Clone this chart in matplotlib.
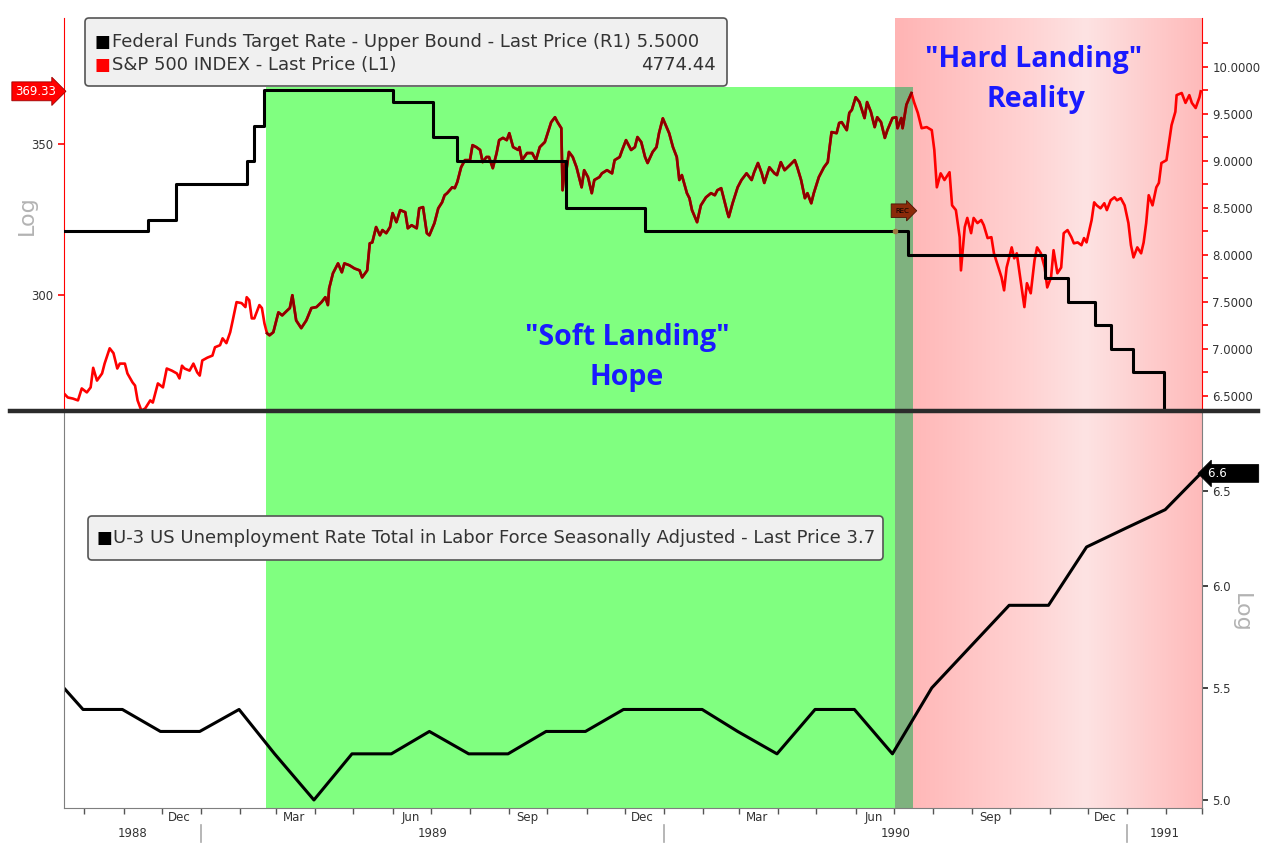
import numpy as np
import pandas as pd
import matplotlib
matplotlib.use('Agg')
import matplotlib.pyplot as plt
import matplotlib.dates as mdates
from matplotlib.colors import LinearSegmentedColormap
from matplotlib.lines import Line2D
from matplotlib.patches import FancyBboxPatch
from matplotlib.transforms import IdentityTransform, blended_transform_factory

# ---- data ----
sp_dates = [
    "1988-09-15", "1988-09-18", "1988-09-22", "1988-09-26", "1988-09-29", "1988-10-03", "1988-10-06", "1988-10-08",
    "1988-10-11", "1988-10-15", "1988-10-17", "1988-10-21", "1988-10-24", "1988-10-27", "1988-10-29", "1988-11-02",
    "1988-11-04", "1988-11-08", "1988-11-10", "1988-11-12", "1988-11-15", "1988-11-18", "1988-11-22", "1988-11-24",
    "1988-11-28", "1988-12-02", "1988-12-05", "1988-12-09", "1988-12-13", "1988-12-15", "1988-12-17", "1988-12-19",
    "1988-12-23", "1988-12-26", "1988-12-29", "1988-12-31", "1989-01-02", "1989-01-06", "1989-01-10", "1989-01-12",
    "1989-01-16", "1989-01-18", "1989-01-21", "1989-01-24", "1989-01-26", "1989-01-29", "1989-02-02", "1989-02-05",
    "1989-02-06", "1989-02-08", "1989-02-10", "1989-02-12", "1989-02-16", "1989-02-18", "1989-02-20", "1989-02-22",
    "1989-02-24", "1989-02-27", "1989-03-03", "1989-03-06", "1989-03-10", "1989-03-12", "1989-03-14", "1989-03-17",
    "1989-03-21", "1989-03-25", "1989-03-29", "1989-04-02", "1989-04-06", "1989-04-09", "1989-04-11", "1989-04-12",
    "1989-04-15", "1989-04-19", "1989-04-22", "1989-04-24", "1989-04-28", "1989-05-02", "1989-05-06", "1989-05-08",
    "1989-05-12", "1989-05-14", "1989-05-16", "1989-05-19", "1989-05-22", "1989-05-24", "1989-05-27", "1989-05-30",
    "1989-06-01", "1989-06-04", "1989-06-07", "1989-06-11", "1989-06-13", "1989-06-16", "1989-06-20", "1989-06-22",
    "1989-06-25", "1989-06-28", "1989-06-30", "1989-07-04", "1989-07-07", "1989-07-10", "1989-07-12", "1989-07-14",
    "1989-07-18", "1989-07-20", "1989-07-22", "1989-07-25", "1989-07-28", "1989-08-01", "1989-08-03", "1989-08-06",
    "1989-08-09", "1989-08-11", "1989-08-14", "1989-08-16", "1989-08-19", "1989-08-22", "1989-08-24", "1989-08-27",
    "1989-08-30", "1989-09-01", "1989-09-04", "1989-09-08", "1989-09-09", "1989-09-11", "1989-09-15", "1989-09-19",
    "1989-09-22", "1989-09-25", "1989-09-29", "1989-10-02", "1989-10-04", "1989-10-07", "1989-10-09", "1989-10-12",
    "1989-10-13", "1989-10-15", "1989-10-16", "1989-10-18", "1989-10-21", "1989-10-24", "1989-10-28", "1989-10-30",
    "1989-11-02", "1989-11-05", "1989-11-07", "1989-11-11", "1989-11-13", "1989-11-17", "1989-11-21", "1989-11-23",
    "1989-11-27", "1989-11-29", "1989-12-02", "1989-12-06", "1989-12-09", "1989-12-11", "1989-12-14", "1989-12-17",
    "1989-12-19", "1989-12-23", "1989-12-26", "1989-12-28", "1989-12-31", "1990-01-03", "1990-01-05", "1990-01-08",
    "1990-01-11", "1990-01-13", "1990-01-15", "1990-01-19", "1990-01-21", "1990-01-23", "1990-01-27", "1990-01-30",
    "1990-02-03", "1990-02-07", "1990-02-10", "1990-02-12", "1990-02-15", "1990-02-18", "1990-02-20", "1990-02-21",
    "1990-02-24", "1990-02-28", "1990-03-03", "1990-03-07", "1990-03-11", "1990-03-13", "1990-03-16", "1990-03-19",
    "1990-03-21", "1990-03-25", "1990-03-29", "1990-03-31", "1990-04-03", "1990-04-06", "1990-04-10", "1990-04-14",
    "1990-04-16", "1990-04-19", "1990-04-22", "1990-04-24", "1990-04-27", "1990-04-29", "1990-05-03", "1990-05-07",
    "1990-05-10", "1990-05-13", "1990-05-17", "1990-05-19", "1990-05-21", "1990-05-25", "1990-05-27", "1990-05-29",
    "1990-06-01", "1990-06-04", "1990-06-08", "1990-06-10", "1990-06-13", "1990-06-16", "1990-06-18", "1990-06-21",
    "1990-06-24", "1990-06-26", "1990-06-30", "1990-07-03", "1990-07-04", "1990-07-07", "1990-07-08", "1990-07-11",
    "1990-07-15", "1990-07-17", "1990-07-20", "1990-07-23", "1990-07-27", "1990-07-31", "1990-08-02", "1990-08-04",
    "1990-08-07", "1990-08-10", "1990-08-14", "1990-08-16", "1990-08-19", "1990-08-22", "1990-08-23", "1990-08-26",
    "1990-08-28", "1990-08-31", "1990-09-02", "1990-09-05", "1990-09-08", "1990-09-10", "1990-09-13", "1990-09-16",
    "1990-09-18", "1990-09-21", "1990-09-24", "1990-09-26", "1990-09-28", "1990-10-02", "1990-10-04", "1990-10-06",
    "1990-10-09", "1990-10-12", "1990-10-14", "1990-10-17", "1990-10-20", "1990-10-22", "1990-10-25", "1990-10-28",
    "1990-10-30", "1990-11-02", "1990-11-04", "1990-11-07", "1990-11-10", "1990-11-12", "1990-11-15", "1990-11-18",
    "1990-11-20", "1990-11-23", "1990-11-26", "1990-11-28", "1990-11-30", "1990-12-04", "1990-12-06", "1990-12-08",
    "1990-12-11", "1990-12-14", "1990-12-16", "1990-12-19", "1990-12-22", "1990-12-24", "1990-12-27", "1990-12-30",
    "1991-01-02", "1991-01-04", "1991-01-06", "1991-01-09", "1991-01-12", "1991-01-14", "1991-01-16", "1991-01-18",
    "1991-01-21", "1991-01-24", "1991-01-26", "1991-01-28", "1991-02-01", "1991-02-05", "1991-02-08", "1991-02-09",
    "1991-02-13", "1991-02-16", "1991-02-19", "1991-02-21", "1991-02-24", "1991-02-27", "1991-02-28",
]
sp_values = [
    271.4, 270.3, 270.0, 269.5, 272.8, 271.7, 273.1, 278.6,
    275.0, 277.0, 279.8, 284.2, 282.8, 278.4, 279.8, 279.8,
    277.0, 274.5, 273.6, 269.5, 266.7, 267.3, 269.5, 268.9,
    274.2, 273.1, 278.4, 277.8, 277.0, 275.6, 279.2, 278.4,
    277.8, 279.8, 277.3, 276.4, 280.7, 281.5, 282.1, 284.5,
    285.1, 287.1, 285.7, 288.9, 292.4, 297.9, 297.6, 296.4,
    299.4, 298.5, 293.0, 293.0, 297.0, 296.1, 291.5, 288.6,
    288.0, 288.9, 294.8, 293.9, 295.4, 296.1, 300.0, 292.4,
    290.1, 292.4, 296.1, 296.4, 297.9, 299.4, 297.0, 302.1,
    306.8, 309.9, 307.1, 309.9, 309.3, 308.3, 307.7, 305.5,
    307.7, 316.3, 316.6, 321.6, 318.9, 320.6, 319.6, 321.6,
    326.2, 323.2, 327.2, 326.5, 321.2, 322.2, 321.2, 327.8,
    328.2, 319.6, 318.9, 322.9, 327.8, 329.8, 332.2, 332.9,
    334.9, 334.6, 336.7, 341.8, 344.3, 344.3, 349.6, 348.9,
    347.9, 343.6, 345.4, 345.4, 341.5, 346.8, 351.4, 352.2,
    351.4, 353.9, 348.9, 347.9, 348.9, 344.3, 346.8, 346.8,
    344.3, 348.9, 350.7, 355.0, 357.9, 359.7, 357.9, 355.7,
    333.9, 343.3, 340.8, 347.2, 345.4, 341.8, 334.9, 340.8,
    338.4, 332.9, 337.4, 338.4, 339.7, 340.8, 339.7, 344.3,
    345.4, 347.9, 351.4, 347.9, 348.9, 352.5, 350.7, 345.4,
    343.3, 347.2, 348.9, 353.9, 359.3, 356.1, 353.9, 348.9,
    345.4, 337.4, 339.1, 332.9, 331.2, 327.2, 323.2, 328.8,
    331.5, 332.9, 332.2, 333.9, 334.6, 329.5, 326.2, 324.9,
    329.5, 334.9, 337.4, 339.7, 337.4, 340.1, 343.3, 339.7,
    336.4, 341.8, 339.7, 339.1, 343.6, 340.8, 342.5, 344.3,
    341.8, 337.4, 331.2, 332.9, 329.5, 332.9, 338.4, 341.8,
    343.6, 354.3, 353.9, 357.6, 357.9, 355.0, 361.3, 362.4,
    367.1, 365.3, 359.4, 365.3, 361.7, 356.1, 359.7, 357.9,
    352.2, 355.0, 359.4, 359.7, 355.7, 359.4, 355.7, 364.3,
    368.7, 365.3, 361.3, 355.7, 356.1, 355.0, 347.9, 334.9,
    339.7, 337.4, 340.1, 328.8, 327.2, 318.3, 307.7, 321.6,
    324.6, 319.6, 324.6, 322.9, 323.9, 322.2, 318.0, 318.3,
    313.1, 309.3, 305.5, 301.5, 308.6, 315.0, 311.5, 313.1,
    304.6, 296.4, 303.7, 300.6, 310.9, 315.0, 313.1, 308.6,
    302.4, 305.5, 314.1, 306.8, 308.6, 319.6, 320.6, 318.3,
    316.3, 316.6, 315.7, 318.0, 316.6, 323.9, 329.8, 328.8,
    327.8, 329.5, 327.2, 330.5, 331.5, 330.5, 331.2, 328.8,
    322.9, 315.7, 311.8, 315.0, 313.1, 316.6, 322.9, 332.2,
    328.8, 334.9, 336.4, 343.3, 344.3, 356.8, 361.7, 367.9,
    368.7, 365.0, 367.9, 365.0, 363.1, 367.1, 369.33,
]

fed_dates = ["1988-09-15", "1988-11-20", "1988-12-12", "1989-02-06", "1989-02-12", "1989-02-20",
             "1989-06-01", "1989-07-03", "1989-07-22", "1989-10-16", "1989-12-17", "1990-07-12",
             "1990-10-28", "1990-11-15", "1990-12-07", "1990-12-19", "1991-01-06", "1991-01-30",
             "1991-02-28"]
fed_values = [8.25, 8.375, 8.75, 9.0, 9.375, 9.75, 9.625, 9.25, 9.0, 8.5, 8.25, 8.0,
              7.75, 7.5, 7.25, 7.0, 6.75, 6.25, 6.25]

unemp_dates = ["1988-08-31", "1988-09-30", "1988-10-31", "1988-11-30", "1988-12-31", "1989-01-31",
               "1989-02-28", "1989-03-31", "1989-04-30", "1989-05-31", "1989-06-30", "1989-07-31",
               "1989-08-31", "1989-09-30", "1989-10-31", "1989-11-30", "1989-12-31", "1990-01-31",
               "1990-02-28", "1990-03-31", "1990-04-30", "1990-05-31", "1990-06-30", "1990-07-31",
               "1990-08-31", "1990-09-30", "1990-10-31", "1990-11-30", "1990-12-31", "1991-01-31",
               "1991-02-28"]
unemp_values = [5.6, 5.4, 5.4, 5.3, 5.3, 5.4, 5.2, 5.0, 5.2, 5.2, 5.3, 5.2, 5.2, 5.3, 5.3, 5.4, 5.4,
                5.4, 5.3, 5.2, 5.4, 5.4, 5.2, 5.5, 5.7, 5.9, 5.9, 6.2, 6.3, 6.4, 6.6]

sp = pd.Series(sp_values, index=pd.to_datetime(sp_dates))
fed = pd.Series(fed_values, index=pd.to_datetime(fed_dates))
unemp = pd.Series(unemp_values, index=pd.to_datetime(unemp_dates))

x_start, x_end = pd.Timestamp("1988-09-15"), pd.Timestamp("1991-03-01")
green_start, green_end = pd.Timestamp("1989-02-21"), pd.Timestamp("1990-07-16")
rec_start = pd.Timestamp("1990-07-02")

W, H = 1280, 859
fig = plt.figure(figsize=(W / 100, H / 100), dpi=100)
fig.patch.set_facecolor('white')


def fx(px):
    return px / W


def fy(py):
    return 1 - py / H


L, R = fx(64), fx(1202)
TXT = '#333333'

# ---- background shading (spans both panels) ----
ax_bg = fig.add_axes([L, fy(808), R - L, fy(18) - fy(808)])
pink = LinearSegmentedColormap.from_list(
    'pink', [(0, '#ffb4b4'), (0.45, '#ffd4d4'), (0.62, '#fde3e3'), (1, '#ffbaba')])
ax_bg.imshow(np.linspace(0, 1, 256)[None, :], cmap=pink, aspect='auto',
             extent=[mdates.date2num(rec_start), mdates.date2num(x_end), 0, 1], zorder=0)
green_top = (808 - 87) / (808 - 18)
ax_bg.axvspan(green_start, green_end, 0, green_top, color='#80ff80', lw=0, zorder=1)
ax_bg.axvspan(rec_start, green_end, 0, green_top, color='#7fb27f', lw=0, zorder=2)
ax_bg.set_xlim(x_start, x_end)
ax_bg.set_ylim(0, 1)
ax_bg.axis('off')

# ---- top panel: S&P 500 (log, left) + Fed funds (right) ----
ax_top = fig.add_axes([L, fy(411), R - L, fy(18) - fy(411)])
ax_top.patch.set_visible(False)
ax_top.plot(sp.index, sp.values, color='#ff0000', lw=1.9)
inside = sp[(sp.index >= green_start) & (sp.index <= green_end)]
ax_top.plot(inside.index, inside.values, color='#8b0000', lw=1.9)
ax_top.set_yscale('log')
ax_top.set_ylim(266.6, 398.0)
ax_top.set_yticks([300, 350])
ax_top.set_yticklabels(['300', '350'])
ax_top.yaxis.set_minor_locator(matplotlib.ticker.NullLocator())
ax_top.tick_params(axis='y', colors='#ff0000', labelcolor=TXT, labelsize=8.5, length=4, width=1.2)
ax_top.tick_params(axis='x', bottom=False, labelbottom=False)
ax_top.set_xlim(x_start, x_end)
for s in ['top', 'bottom', 'right']:
    ax_top.spines[s].set_visible(False)
ax_top.spines['left'].set_color('#ff0000')

ax_fed = ax_top.twinx()
ax_fed.step(fed.index, fed.values, where='post', color='black', lw=2.2)
ax_fed.set_ylim(6.34, 10.52)
ax_fed.set_yticks(np.arange(6.5, 10.01, 0.5))
ax_fed.set_yticklabels(['%.4f' % v for v in np.arange(6.5, 10.01, 0.5)])
ax_fed.set_yticks(np.arange(6.75, 10.51, 0.5), minor=True)
ax_fed.tick_params(axis='y', which='both', colors='#ff0000', labelcolor=TXT, labelsize=8.5,
                   length=4, width=1.2)
for s in ['top', 'bottom', 'left']:
    ax_fed.spines[s].set_visible(False)
ax_fed.spines['right'].set_color('#ff0000')
ax_fed.set_xlim(x_start, x_end)

ax_top.annotate('%.2f' % sp.values[-1], xy=(0, sp.values[-1]), xycoords=ax_top.get_yaxis_transform(),
                xytext=(-6, 0), textcoords='offset points', ha='right', va='center',
                color='white', fontsize=8.5,
                bbox=dict(boxstyle='rarrow,pad=0.25', fc='#ff0000', ec='#990000', lw=0.6))
ax_fed.plot(rec_start, fed.asof(rec_start), marker='o', ms=3, color='#a07840', zorder=5)
ax_fed.annotate('REC', xy=(rec_start, 8.47), ha='left', va='center', fontsize=5, color='black',
                bbox=dict(boxstyle='rarrow,pad=0.55', fc='#8b2a0a', ec='#4a1505', lw=0.6))

# ---- bottom panel: unemployment (log, right) ----
ax_bot = fig.add_axes([L, fy(808), R - L, fy(411) - fy(808)])
ax_bot.patch.set_visible(False)
ax_bot.plot(unemp.index, unemp.values, color='black', lw=2.2)
ax_bot.set_yscale('log')
ax_bot.set_ylim(4.966, 6.96)
ax_bot.yaxis.tick_right()
ax_bot.set_yticks([5.0, 5.5, 6.0, 6.5])
ax_bot.set_yticklabels(['5.0', '5.5', '6.0', '6.5'])
ax_bot.yaxis.set_minor_locator(matplotlib.ticker.NullLocator())
ax_bot.yaxis.set_minor_formatter(matplotlib.ticker.NullFormatter())
ax_bot.tick_params(axis='y', colors='#222222', labelcolor=TXT, labelsize=8.5, length=4, width=1.2)
ax_bot.set_xlim(x_start, x_end)
ax_bot.spines['top'].set_visible(False)
for s in ['left', 'right', 'bottom']:
    ax_bot.spines[s].set_color('#7f7f7f')

first_month = mdates.date2num(pd.Timestamp("1988-10-01"))


def month_label(x, pos=None):
    # quarter months only, skip the partial month at the left edge
    if x < first_month:
        return ''
    return mdates.num2date(x).strftime('%b')


ax_bot.xaxis.set_major_locator(mdates.MonthLocator())
ax_bot.xaxis.set_major_formatter(matplotlib.ticker.NullFormatter())
ax_bot.xaxis.set_minor_locator(mdates.MonthLocator(bymonth=[3, 6, 9, 12], bymonthday=15))
ax_bot.xaxis.set_minor_formatter(matplotlib.ticker.FuncFormatter(month_label))
ax_bot.tick_params(axis='x', which='major', length=4, color='#555555', width=1)
ax_bot.tick_params(axis='x', which='minor', length=0, pad=2, labelsize=8.5, labelcolor=TXT)

# year labels and separators
tr = blended_transform_factory(ax_bot.transData, ax_bot.transAxes)
year_bounds = [x_start, pd.Timestamp("1989-01-01"), pd.Timestamp("1990-01-01"),
               pd.Timestamp("1991-01-01"), x_end]
for a, b in zip(year_bounds[:-1], year_bounds[1:]):
    mid = a + (b - a) / 2
    ax_bot.text(mid, -0.063, str(a.year), transform=tr, ha='center', va='center',
                fontsize=8.5, color=TXT)
for b in year_bounds[1:-1]:
    ax_bot.add_line(Line2D([b, b], [-0.042, -0.085], transform=tr, color='#aaaaaa',
                           lw=1.2, clip_on=False))

ax_bot.annotate('%.1f        ' % unemp.values[-1], xy=(1, unemp.values[-1]),
                xycoords=ax_bot.get_yaxis_transform(), xytext=(4, 0), textcoords='offset points',
                ha='left', va='center', color='white', fontsize=8.5,
                bbox=dict(boxstyle='larrow,pad=0.2', fc='black', ec='black', lw=0.6))

# ---- panel separator ----
fig.add_artist(Line2D([fx(10), fx(1258)], [fy(411), fy(411)], transform=fig.transFigure,
                      color='#2b2b2b', lw=3.2))

# ---- legends ----
fig.add_artist(FancyBboxPatch((85, H - 86), 642, 68, boxstyle='round,pad=0,rounding_size=4',
                              transform=IdentityTransform(), fc='#f0f0f0', ec='#555555', lw=1.2))
fig.text(fx(95), fy(42), '■', color='black', fontsize=12, va='center')
fig.text(fx(112), fy(42), 'Federal Funds Target Rate - Upper Bound - Last Price (R1) 5.5000',
         color=TXT, fontsize=13, va='center')
fig.text(fx(95), fy(65), '■', color='#ff0000', fontsize=12, va='center')
fig.text(fx(112), fy(65), 'S&P 500 INDEX - Last Price (L1)', color=TXT, fontsize=13, va='center')
fig.text(fx(716), fy(65), '4774.44', color=TXT, fontsize=13, va='center', ha='right')

fig.add_artist(FancyBboxPatch((88, H - 560), 795, 44, boxstyle='round,pad=0,rounding_size=4',
                              transform=IdentityTransform(), fc='#f0f0f0', ec='#555555', lw=1.2))
fig.text(fx(97), fy(538), '■', color='black', fontsize=12, va='center')
fig.text(fx(113), fy(538),
         'U-3 US Unemployment Rate Total in Labor Force Seasonally Adjusted - Last Price 3.7',
         color=TXT, fontsize=13, va='center')

# ---- annotations ----
blue = '#1a1aff'
fig.text(fx(627), fy(337), '"Soft Landing"', color=blue, fontsize=20.5, fontweight='bold',
         family='Open Sans', ha='center', va='center')
fig.text(fx(627), fy(378), 'Hope', color=blue, fontsize=20.5, fontweight='bold',
         family='Open Sans', ha='center', va='center')
fig.text(fx(1034), fy(59), '"Hard Landing"', color=blue, fontsize=20.5, fontweight='bold',
         family='Open Sans', ha='center', va='center')
fig.text(fx(1036), fy(99), 'Reality', color=blue, fontsize=20.5, fontweight='bold',
         family='Open Sans', ha='center', va='center')

fig.text(fx(27), fy(215), 'Log', color='#b3b3b3', fontsize=16, rotation=90, ha='center', va='center')
fig.text(fx(1241), fy(613), 'Log', color='#b3b3b3', fontsize=16, rotation=270, ha='center', va='center')

fig.savefig('out.png', dpi=100)
